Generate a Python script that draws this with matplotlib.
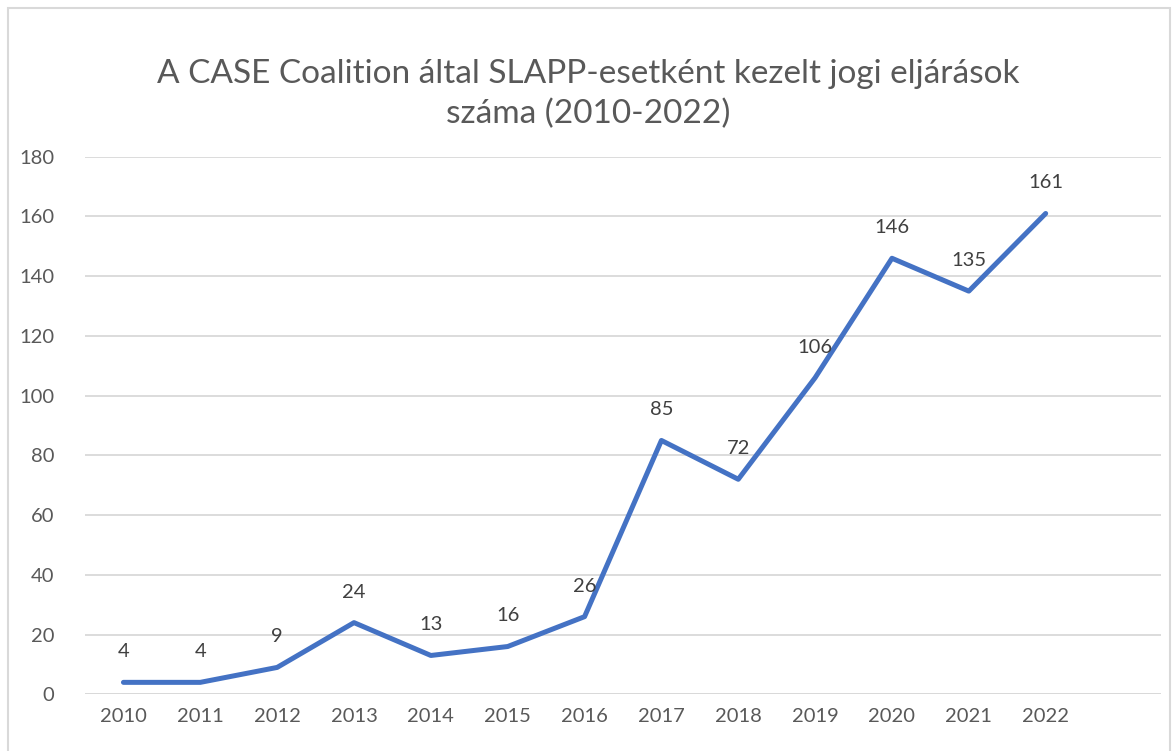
import matplotlib.pyplot as plt
from matplotlib.patches import Rectangle

years = ["2010", "2011", "2012", "2013", "2014", "2015", "2016",
         "2017", "2018", "2019", "2020", "2021", "2022"]
cases = [4, 4, 9, 24, 13, 16, 26, 85, 72, 106, 146, 135, 161]
yticks = [0, 20, 40, 60, 80, 100, 120, 140, 160, 180]

plt.rcParams["font.family"] = ["Lato", "DejaVu Sans"]

fig = plt.figure(figsize=(11.76, 7.51), dpi=100)
ax = fig.add_axes([0.0723, 0.0755, 0.9149, 0.7158])

x = list(range(len(years)))
ax.plot(x, cases, color="#4472C4", lw=3.6, solid_capstyle="round",
        solid_joinstyle="round", zorder=3)
for xi, v in zip(x, cases):
    ax.annotate(str(v), (xi, v), xytext=(0, 22), textcoords="offset points",
                ha="center", va="center", fontsize=14.5, color="#404040")

ax.set_xlim(-0.5, 13.5)
ax.set_ylim(0, 180)
ax.set_yticks(yticks)
ax.set_xticks(x)
ax.set_xticklabels(years)
ax.tick_params(axis="both", length=0, labelsize=14.5, labelcolor="#595959")
ax.tick_params(axis="y", pad=22)
ax.tick_params(axis="x", pad=10)
ax.grid(axis="y", color="#D9D9D9", lw=1.3)
ax.set_axisbelow(True)
for s in ax.spines.values():
    s.set_visible(False)
ax.axhline(0, color="#D9D9D9", lw=1.3, zorder=1)

fig.text(0.5, 0.875, "A CASE Coalition által SLAPP-esetként kezelt jogi eljárások\nszáma (2010-2022)",
         ha="center", va="center", fontsize=24, color="#595959", linespacing=1.4)

fig.patches.append(Rectangle((0.007, -0.01), 0.988, 1.0, transform=fig.transFigure,
                             fill=False, edgecolor="#D9D9D9", lw=1.5))

fig.savefig("out.png", dpi=100)
